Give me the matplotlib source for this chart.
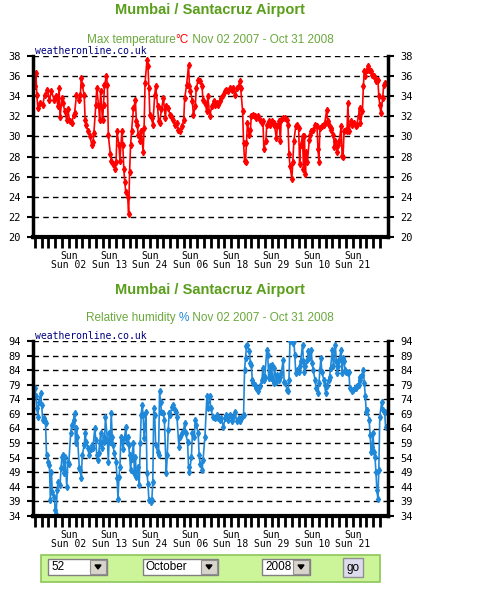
import matplotlib
matplotlib.use('Agg')
import matplotlib.pyplot as plt
from matplotlib.patches import Rectangle, Polygon

W, H = 500, 600

station = 'Mumbai / Santacruz Airport'
period = ' Nov 02 2007 - Oct 31 2008'

# days since the start of the period, daily maximum temperature (C)
temp_days = [0, 1, 2, 3, 5, 8, 10, 13, 15, 17, 20, 22, 24, 25, 26, 28, 29, 31, 33, 34,
             36, 38, 40, 41, 43, 46, 47, 48, 49, 51, 52, 53, 55, 57, 59, 60, 61, 63, 64, 66,
             67, 68, 70, 71, 72, 74, 75, 76, 78, 79, 81, 83, 84, 85, 87, 88, 90, 91, 92, 93,
             94, 96, 97, 98, 99, 100, 102, 104, 105, 106, 107, 109, 110, 112, 113, 114, 116, 117, 118, 119,
             121, 122, 124, 125, 127, 128, 129, 131, 133, 135, 136, 138, 140, 141, 143, 145, 147, 148, 150, 152,
             154, 155, 157, 159, 160, 161, 163, 164, 166, 167, 169, 171, 173, 174,
             176, 178, 179, 181, 183, 185, 186, 188, 190, 192, 193, 195, 197, 198, 200, 202, 204, 205, 207, 209,
             211, 212, 213, 215, 216, 217, 218, 219, 220, 222, 223, 224, 226, 228, 229, 231, 233, 235, 236, 237,
             239, 240, 242, 243, 245, 247, 248, 250, 251, 253, 254, 255, 257, 259, 261, 262, 263, 264, 266, 267,
             268, 270, 271, 273, 274, 275, 277, 278, 279, 280, 281, 282, 284, 285, 286, 288, 290, 292, 293, 294,
             295, 297, 299, 300, 302, 303, 304, 306, 307, 309, 310, 311, 313, 314, 315, 317, 318, 319, 320, 322,
             323, 324, 325, 327, 328, 330, 332, 333, 335, 336, 337, 339, 340, 341, 342, 344, 345, 346, 348, 349,
             351, 352, 353, 355, 356, 357, 358, 360, 361, 362]
temp_max = [35.0, 36.3, 34.1, 32.8, 33.3, 33.1, 34.1, 34.6, 33.6, 34.5, 33.6, 34.0, 33.0, 34.8, 31.9, 33.8, 33.3, 32.5, 31.6, 32.7,
            31.5, 31.3, 32.1, 32.3, 34.1, 33.6, 34.1, 35.8, 35.1, 34.1, 31.6, 31.1, 30.5, 30.0, 29.1, 29.4, 30.3, 33.1, 34.8, 33.0,
            31.6, 34.5, 31.6, 33.1, 35.1, 36.0, 35.1, 30.1, 28.3, 27.6, 27.3, 26.8, 27.5, 30.5, 29.1, 27.6, 30.5, 29.1, 26.8, 25.5,
            24.5, 24.0, 22.3, 26.5, 29.1, 30.5, 32.8, 33.6, 31.5, 31.1, 30.1, 29.5, 30.5, 28.5, 30.8, 35.3, 37.6, 37.0, 34.8, 32.1,
            31.8, 31.1, 34.1, 35.0, 33.0, 31.5, 31.3, 32.7, 33.8, 31.8, 33.0, 32.8, 32.1, 32.0, 31.6, 31.1, 31.3, 30.6, 30.5, 31.0,
            31.6, 33.8, 35.1, 37.1, 35.0, 34.5, 33.5, 32.1, 33.0, 34.8, 35.6, 35.5, 35.0, 33.6,
            33.3, 32.5, 34.0, 32.0, 33.0, 33.5, 33.1, 33.3, 33.1, 33.5, 33.8, 34.1, 34.5, 34.6, 34.5, 34.8, 34.6, 34.8, 34.1, 34.8,
            35.0, 35.5, 34.8, 32.5, 29.3, 27.6, 27.5, 29.3, 31.3, 30.1, 30.6, 32.0, 32.1, 32.0, 31.8, 32.0, 31.6, 31.3, 31.5, 28.8,
            29.5, 31.1, 31.5, 31.1, 31.5, 31.3, 31.1, 29.8, 31.0, 31.5, 29.5, 31.6, 31.8, 31.8, 31.6, 31.1, 28.3, 27.1, 25.8, 27.5,
            29.5, 31.0, 31.1, 30.8, 27.3, 29.1, 30.0, 26.8, 30.0, 26.3, 28.5, 27.5, 29.6, 30.1, 30.5, 30.6, 31.1, 31.0, 28.8, 27.5,
            30.8, 31.0, 31.1, 31.3, 32.6, 31.5, 31.1, 30.8, 30.6, 30.1, 29.0, 29.5, 28.5, 29.1, 29.5, 31.0, 28.1, 28.0, 30.5, 30.6,
            30.5, 33.3, 30.5, 31.5, 31.1, 31.3, 31.0, 31.1, 32.0, 32.8, 31.3, 32.5, 35.0, 36.5, 36.0, 36.6, 37.0, 36.6, 36.5, 36.1,
            36.0, 35.8, 35.5, 35.6, 34.0, 33.1, 32.3, 33.8, 35.1, 35.3]

# days since the start of the period, relative humidity (%)
hum_days = [0, 1, 2, 3, 4, 6, 7, 8, 9, 10, 11, 12, 14, 15, 16, 17, 18, 20, 21, 22,
            23, 24, 26, 27, 28, 29, 30, 31, 33, 34, 35, 37, 38, 40, 41, 42, 43, 44, 46, 47,
            48, 49, 51, 52, 53, 55, 56, 58, 59, 60, 62, 63, 64, 65, 66, 67, 68, 69, 71, 72,
            73, 75, 76, 77, 78, 79, 80, 81, 82, 84, 85, 86, 87, 88, 89, 90, 91, 93, 94, 95,
            96, 97, 98, 99, 100, 102, 103, 104, 105, 107, 108, 109, 110, 111, 112, 113, 115, 116, 117, 118,
            120, 121, 122, 123, 124, 125, 127, 128, 129, 130, 131, 133, 134, 136, 137, 138, 139, 140, 142, 143,
            145, 146, 147, 149, 150, 152, 154, 155, 156, 158, 159, 160, 162, 163, 165, 166, 167, 169, 170, 171,
            173, 174,
            176, 178, 179, 181, 182, 184, 186, 188, 190, 192, 193, 195, 197, 198, 200, 202, 204, 205, 207, 209,
            211, 212, 214, 216, 217, 218, 219, 220, 222, 223, 224, 225, 226, 228, 229, 231, 233, 235, 236, 237,
            238, 240, 241, 242, 243, 244, 245, 246, 247, 248, 250, 251, 253, 254, 255, 257, 258, 259, 261, 262,
            263, 264, 266, 267, 268, 269, 270, 271, 273, 274, 275, 277, 278, 279, 280, 282, 283, 284, 286, 287,
            288, 290, 291, 293, 294, 295, 296, 297, 299, 300, 301, 302, 304, 305, 306, 308, 309, 311, 312, 313,
            314, 315, 317, 318, 319, 320, 321, 322, 324, 325, 326, 328, 329, 331, 332, 333, 335, 336, 337, 339,
            340, 341, 342, 343, 344, 346, 347, 348, 349, 350, 351, 352, 353, 354, 355, 356, 357, 359, 360, 362,
            363]
hum_vals = [77.8, 75.0, 71.0, 68.1, 73.2, 76.1, 72.1, 66.9, 67.5, 66.4, 65.8, 54.9, 52.6, 51.5, 39.4, 49.2, 42.3, 40.6, 36.0, 34.8,
            42.9, 45.7, 44.6, 50.3, 54.3, 54.9, 48.6, 54.3, 44.0, 52.6, 52.0, 62.3, 65.2, 66.9, 69.2, 58.9, 64.1, 61.2, 50.3, 49.7,
            46.9, 54.9, 58.3, 62.3, 59.5, 57.2, 54.9, 56.9, 58.3, 57.2, 64.1, 60.1, 54.9, 53.2, 55.5, 58.9, 62.3, 57.2, 61.2, 59.5,
            68.1, 60.1, 52.6, 62.3, 59.5, 69.2, 61.2, 58.3, 55.5, 52.6, 46.9, 40.0, 47.4, 50.9, 61.2, 60.1, 56.9, 61.2, 64.6, 59.5,
            61.2, 58.3, 54.9, 49.7, 53.7, 58.9, 48.6, 54.3, 47.4, 50.9, 44.6, 58.9, 68.7, 72.1, 68.7, 60.6, 69.8, 48.6, 45.1, 39.4,
            38.8, 39.4, 45.7, 71.0, 68.7, 58.3, 56.0, 54.9, 76.7, 73.2, 69.8, 69.2, 66.9, 48.6, 54.9, 63.5, 69.2, 68.7, 71.5, 72.1,
            70.4, 69.8, 68.1, 57.8, 61.2, 62.3, 63.5, 65.8, 62.3, 59.5, 50.9, 49.2, 54.3, 62.3, 61.2, 66.9, 65.2, 62.3, 54.9, 52.0,
            49.7, 53.2,
            61.2, 75.0, 71.0, 75.0, 71.0, 68.1, 67.5, 68.7, 67.5, 66.9, 67.5, 64.6, 67.5, 68.7, 66.9, 68.7, 66.4, 68.1, 69.8, 66.4,
            67.5, 66.4, 68.1, 68.7, 84.1, 88.2, 92.2, 92.7, 90.4, 86.4, 85.9, 80.7, 79.6, 79.0, 77.8, 76.7, 78.4, 80.7, 84.7, 80.7,
            81.8, 91.0, 89.3, 81.3, 85.3, 81.3, 85.9, 80.7, 79.6, 84.7, 80.1, 82.4, 80.7, 81.8, 83.0, 87.6, 80.1, 79.6, 77.3, 76.7,
            80.7, 94.0, 94.0, 93.3, 94.0, 89.3, 83.0, 84.1, 83.5, 85.3, 87.0, 92.7, 87.0, 83.5, 85.3, 87.6, 90.4, 88.2, 91.0, 86.4,
            84.1, 80.7, 77.8, 76.1, 79.6, 84.1, 88.2, 83.5, 80.7, 79.0, 76.1, 78.4, 80.7, 81.8, 84.7, 91.0, 85.3, 92.7, 87.0, 83.0,
            85.3, 87.6, 91.0, 83.0, 88.2, 87.0, 84.1, 83.5, 83.0, 83.5, 77.8, 76.7, 77.3, 77.8, 77.8, 78.4, 79.0, 81.8, 80.7, 82.4,
            84.1, 79.6, 75.0, 69.8, 70.4, 66.9, 61.8, 56.0, 57.8, 62.3, 56.0, 54.3, 49.2, 42.9, 40.0, 49.7, 68.1, 73.2, 70.4, 69.8,
            64.6]

sunday_days = [35, 77, 119, 161, 203, 245, 287, 329]
sunday_dates = ['02', '13', '24', '06', '18', '29', '10', '21']

temp_ticks = [20, 22, 24, 26, 28, 30, 32, 34, 36, 38]
hum_ticks = [34, 39, 44, 49, 54, 59, 64, 69, 74, 79, 84, 89, 94]

title_green = '#5a9e1c'
sub_green = '#6aa83c'
mono = 'DejaVu Sans Mono'

fig = plt.figure(figsize=(W / 100, H / 100), dpi=100)
fig.patch.set_facecolor('white')


def fx(x):
    return x / W


def fy(y):
    return 1 - y / H


def title_block(y_title, y_sub, parts):
    fig.text(fx(210), fy(y_title), station, ha='center', va='center', fontsize=10.5,
             fontweight='bold', color=title_green, family='Liberation Sans')
    r = fig.canvas.get_renderer()
    texts = [fig.text(0, fy(y_sub), s, color=c, fontsize=8.5, family='Liberation Sans',
                      ha='left', va='center') for s, c in parts]
    widths = [t.get_window_extent(r).width for t in texts]
    x = 210 - sum(widths) / 2
    for t, w in zip(texts, widths):
        t.set_x(fx(x))
        x += w


def panel(rect, days, vals, color, ticks):
    ax = fig.add_axes(rect)
    ax.plot(days, vals, color=color, lw=1.2, marker='d', ms=3.2, mec=color, mfc=color)
    ax.set_xlim(-2, 365.5)
    ax.set_ylim(ticks[0], ticks[-1])
    ax.set_yticks(ticks)
    for t in ticks[1:]:
        ax.axhline(t, color='black', lw=1, ls=(0, (4, 3)), zorder=0)
    ax.spines['top'].set_visible(False)
    for side in ('left', 'right'):
        ax.spines[side].set_linewidth(2.5)
    ax.spines['bottom'].set_linewidth(3)
    ax.tick_params(axis='y', left=True, right=True, labelright=True, length=4, width=1.5,
                   labelsize=7.5, pad=5)
    for lab in ax.get_yticklabels():
        lab.set_family(mono)
    weeks = list(range(0, 358, 7))
    labels = []
    for d in weeks:
        if d in sunday_days:
            labels.append('Sun\nSun ' + sunday_dates[sunday_days.index(d)])
        else:
            labels.append('')
    ax.set_xticks(weeks)
    ax.set_xticklabels(labels, family=mono, fontsize=7, linespacing=0.95)
    ax.tick_params(axis='x', length=8, width=2, pad=2)
    ax.text(0.005, 1.0, 'weatheronline.co.uk', transform=ax.transAxes, family=mono,
            fontsize=7, color='#000080', va='bottom', ha='left')
    return ax


title_block(10, 40, [('Max temperature', sub_green), ('\u00b0C', '#ff0000'), (period, sub_green)])
panel([fx(33), fy(237), fx(388) - fx(33), fy(56) - fy(237)], temp_days, temp_max, '#ff0000', temp_ticks)

title_block(290, 318, [('Relative humidity ', sub_green), ('%', '#1f88d9'), (period, sub_green)])
panel([fx(33), fy(516), fx(388) - fx(33), fy(341) - fy(516)], hum_days, hum_vals, '#1f88d9', hum_ticks)


# selection form under the charts
def box(x0, y0, x1, y1, **kw):
    fig.patches.append(Rectangle((fx(x0), fy(y1)), fx(x1) - fx(x0), fy(y0) - fy(y1),
                                 transform=fig.transFigure, figure=fig, **kw))


box(41, 555, 380, 582, facecolor='#ccf59a', edgecolor='#8cc65a', lw=1.2)
for (x0, x1, label) in [(48, 107, '52'), (143, 218, 'October'), (262, 310, '2008')]:
    box(x0, 559, x1, 575, facecolor='white', edgecolor='#808080', lw=1)
    box(x1 - 17, 560, x1 - 1, 574, facecolor='#d8d4cc', edgecolor='#909090', lw=0.8)
    cx = (x1 - 9)
    fig.patches.append(Polygon([(fx(cx - 3), fy(565)), (fx(cx + 3), fy(565)), (fx(cx), fy(569))],
                               closed=True, transform=fig.transFigure, figure=fig, color='black'))
    fig.text(fx(x0 + 3), fy(567.5), label, fontsize=8.5, family='Liberation Sans', va='center', ha='left')
box(343, 558, 363, 577, facecolor='#dcdcec', edgecolor='#909090', lw=1)
fig.text(fx(353), fy(567.5), 'go', fontsize=8.5, family='Liberation Sans', va='center', ha='center')

fig.savefig('out.png', dpi=100)
